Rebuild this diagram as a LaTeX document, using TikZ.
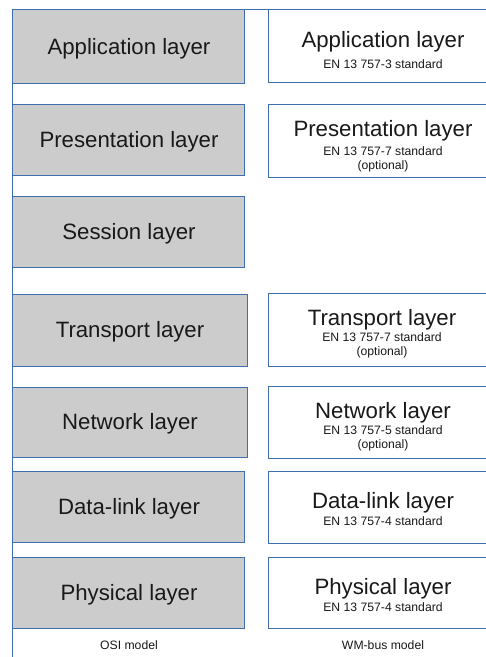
\documentclass[tikz,border=0pt]{standalone}
\usepackage{fontspec}
\setmainfont{Liberation Sans}
\definecolor{lineblue}{HTML}{3F6FB0}
\definecolor{boxgray}{HTML}{CCCCCC}
\begin{document}
\begin{tikzpicture}[x=1pt,y=-1pt,
  osibox/.style={draw=lineblue,line width=1pt,fill=boxgray,rectangle,inner sep=0pt,anchor=north west},
  wmbox/.style={draw=lineblue,line width=1pt,fill=white,rectangle,inner sep=0pt,anchor=north west},
  big/.style={font=\fontsize{22.2}{24}\selectfont,inner sep=0pt,text=black!90},
  small/.style={font=\fontsize{12.2}{13.5}\selectfont,inner sep=0pt,align=center,text=black!90}]
\useasboundingbox (0,0) rectangle (486,657);
\clip (0,0) rectangle (486,657);
% frame lines
\coordinate (tl) at (12,9);
\coordinate (tr) at (487,9);
\coordinate (bl) at (12,658);
\draw[lineblue,line width=1pt] (bl) -- (tl) -- (tr);
% OSI column
\node[osibox,minimum width=232,minimum height=74] (oapp) at (12,9) {};
\node[osibox,minimum width=232,minimum height=71] (opres) at (12,104) {};
\node[osibox,minimum width=232,minimum height=71] (osess) at (12,196) {};
\node[osibox,minimum width=235,minimum height=72] (otrans) at (12,294) {};
\node[osibox,minimum width=235,minimum height=70] (onet) at (12,387) {};
\node[osibox,minimum width=232,minimum height=71] (odata) at (12,471) {};
\node[osibox,minimum width=232,minimum height=71] (ophys) at (12,557) {};
\node[big] (toapp) at (129,49) {Application layer};
\node[big] (topres) at (129,142) {Presentation layer};
\node[big] (tosess) at (129,234) {Session layer};
\node[big] (totrans) at (130,332) {Transport layer};
\node[big] (tonet) at (130,424) {Network layer};
\node[big] (todata) at (129,509) {Data-link layer};
\node[big] (tophys) at (129,595) {Physical layer};
% WM-bus column
\node[wmbox,minimum width=240,minimum height=73] (wapp) at (268,9) {};
\node[wmbox,minimum width=240,minimum height=73] (wpres) at (268,104) {};
\node[wmbox,minimum width=240,minimum height=73] (wtrans) at (268,293) {};
\node[wmbox,minimum width=240,minimum height=72] (wnet) at (268,386) {};
\node[wmbox,minimum width=240,minimum height=72] (wdata) at (268,471) {};
\node[wmbox,minimum width=240,minimum height=71] (wphys) at (268,557) {};
\node[big] (twapp) at (383,41.5) {Application layer};
\node[small] (swapp) at (383,64) {EN 13 757-3 standard};
\node[big] (twpres) at (383,130.5) {Presentation layer};
\node[small,anchor=north] (swpres) at (383,146.5) {EN 13 757-7 standard\\(optional)};
\node[big] (twtrans) at (382,319.5) {Transport layer};
\node[small,anchor=north] (swtrans) at (382,332.5) {EN 13 757-7 standard\\(optional)};
\node[big] (twnet) at (383,412.5) {Network layer};
\node[small,anchor=north] (swnet) at (383,425.5) {EN 13 757-5 standard\\(optional)};
\node[big] (twdata) at (383,502.5) {Data-link layer};
\node[small] (swdata) at (383,521.5) {EN 13 757-4 standard};
\node[big] (twphys) at (383,588.5) {Physical layer};
\node[small] (swphys) at (383,607.5) {EN 13 757-4 standard};
% captions
\node[small] (cosi) at (129,645.5) {OSI model};
\node[small] (cwm) at (383,645.5) {WM-bus model};
\end{tikzpicture}
\end{document}
